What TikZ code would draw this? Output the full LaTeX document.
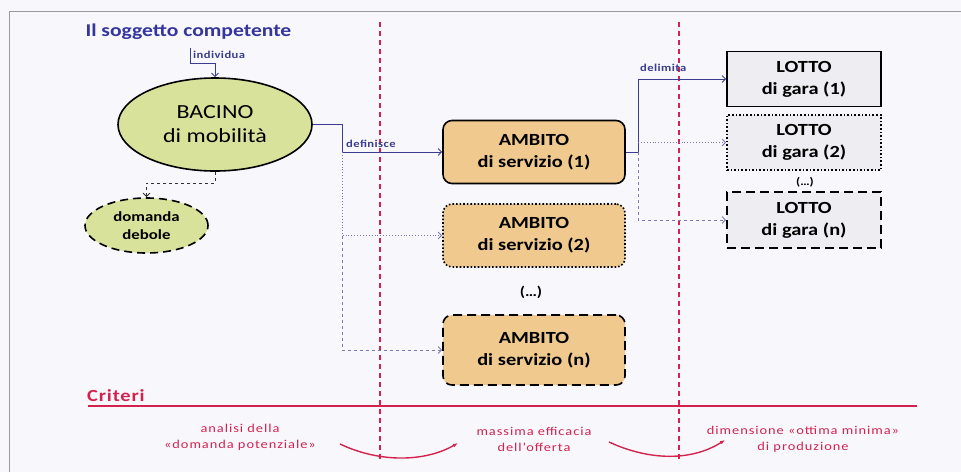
\documentclass[tikz,border=0pt]{standalone}
\usepackage{fontspec}
\setmainfont[FakeStretch=1.2]{Carlito}
\usetikzlibrary{shapes,positioning,calc,arrows.meta}

\definecolor{bgcol}{HTML}{F8F8FC}
\definecolor{framegray}{HTML}{9A9AA2}
\definecolor{bacinogreen}{HTML}{D9E29B}
\definecolor{ambitotan}{HTML}{EFC98E}
\definecolor{lottogray}{HTML}{EDEDF2}
\definecolor{navy}{HTML}{3C3C90}
\definecolor{lightnavy}{HTML}{7A7AB4}
\definecolor{titleblue}{HTML}{35359E}
\definecolor{critred}{HTML}{D2234F}

\begin{document}
\begin{tikzpicture}[x=1pt,y=-1pt,>={Straight Barb[length=3.5pt,width=7pt]}]

        % picture size and frame
        \useasboundingbox (0,0) rectangle (961,472);
        \fill[bgcol] (0,0) rectangle (961,472);
        \draw[framegray, line width=0.9pt] (9,472) -- (9,11) -- (961,11);

        \tikzset{
            bacino/.style={ellipse, draw, line width=1.6pt, fill=bacinogreen,
                inner sep=0pt, align=center},
            ambito/.style={rectangle, rounded corners=9pt, draw, line width=1.6pt,
                fill=ambitotan, minimum width=182pt, minimum height=63pt,
                align=center, font=\bfseries\fontsize{17}{22}\selectfont},
            lotto/.style={rectangle, draw, line width=1.6pt, fill=lottogray,
                minimum width=154pt, minimum height=55pt, align=center,
                font=\bfseries\fontsize{17}{22}\selectfont},
            link/.style={navy, line width=0.9pt, ->},
            verbo/.style={text=navy, inner sep=1pt,
                font=\bfseries\fontsize{10.5}{12}\selectfont\addfontfeatures{LetterSpace=4}},
            criterio/.style={text=critred, align=center,
                font=\fontsize{12}{16}\selectfont\addfontfeatures{LetterSpace=8}},
            confine/.style={critred, line width=1.8pt, dash pattern=on 5pt off 4pt}
        }

        % separators between the three levels
        \draw[confine] (380,22) -- (380,462);
        \draw[confine] (679,22) -- (679,462);

        % nodes
        \node[text=titleblue, font=\bfseries\fontsize{18}{21}\selectfont, anchor=west]
            (soggetto) at (82,32) {Il soggetto competente};
        \node[bacino, minimum width=194pt, minimum height=93pt,
            font=\fontsize{20}{24}\selectfont] (bacino) at (215,124.5)
            {BACINO\\di mobilità};
        \node[bacino, dashed, dash pattern=on 8pt off 5pt, minimum width=123pt,
            minimum height=55pt, font=\bfseries\fontsize{14}{18}\selectfont]
            (domanda) at (146.5,225.5) {domanda\\debole};

        \node[ambito] (ambito1) at (534,152) {AMBITO\\di servizio (1)};
        \node[ambito, dotted] (ambito2) at (534,235.5) {AMBITO\\di servizio (2)};
        \node[font=\bfseries\fontsize{14}{16}\selectfont] (ambitodots) at (531,292) {(…)};
        \node[ambito, dashed, dash pattern=on 9pt off 5pt, minimum height=70pt]
            (ambitoN) at (534,350) {AMBITO\\di servizio (n)};

        \node[lotto] (lotto1) at (804,79) {LOTTO\\di gara (1)};
        \node[lotto, dotted] (lotto2) at (804,142.5) {LOTTO\\di gara (2)};
        \node[font=\bfseries\fontsize{11}{13}\selectfont] (lottodots) at (805,182) {(…)};
        \node[lotto, dashed, dash pattern=on 9pt off 5pt, minimum height=56pt]
            (lottoN) at (804,220) {LOTTO\\di gara (n)};

        % connectors
        \coordinate (i1) at (190,48);
        \coordinate (i2) at (215,63);
        \draw[link] (i1) |- (i2) -- (bacino);
        \node[verbo, anchor=west] (individua) at (192,55) {individua};

        \coordinate (d1) at (215,183);
        \draw[link, black!80, dashed] (bacino.south) -- (d1) -| (domanda);

        \coordinate (b1) at (342,124.5);
        \coordinate (b2) at (342,152);
        \coordinate (b3) at (342,235.5);
        \draw[link] (bacino.east) -- (b1) |- (ambito1);
        \draw[link, lightnavy, dotted] (b2) |- (ambito2);
        \draw[link, lightnavy, dashed] (b3) |- (ambitoN);
        \node[verbo, anchor=base west] (definisce) at (345,147) {definisce};

        \coordinate (k1) at (638,152);
        \coordinate (k2) at (638,142.5);
        \draw[link] (ambito1.east) -- (k1) |- (lotto1);
        \draw[link, lightnavy, dotted] (k2) -- (lotto2);
        \draw[link, lightnavy, dashed] (k1) |- (lottoN);
        \node[verbo, anchor=base west] (delimita) at (639,71) {delimita};

        % criteria
        \node[text=critred, font=\bfseries\fontsize{17}{20}\selectfont\addfontfeatures{LetterSpace=5},
            anchor=base west, inner sep=0pt] (criteri) at (87,401) {Criteri};
        \draw[critred, line width=1.6pt] (88,406) -- (917,406);

        \node[criterio] (analisi) at (240,437) {analisi della\\«domanda potenziale»};
        \node[criterio] (efficacia) at (534,439) {massima efficacia\\dell’offerta};
        \node[criterio] (dimensione) at (803,439)
            {dimensione «ottima minima»\\di produzione};

        \coordinate (c1) at (340,444);
        \coordinate (c2) at (458,443);
        \coordinate (c3) at (609,442);
        \coordinate (c4) at (725,440);
        \draw[critred, line width=1.4pt, -{Latex[length=5pt]}]
            (c1) .. controls (380,463) and (425,462) .. (c2);
        \draw[critred, line width=1.4pt, -{Latex[length=5pt]}]
            (c3) .. controls (650,461) and (692,461) .. (c4);

        \end{tikzpicture}
\end{document}
